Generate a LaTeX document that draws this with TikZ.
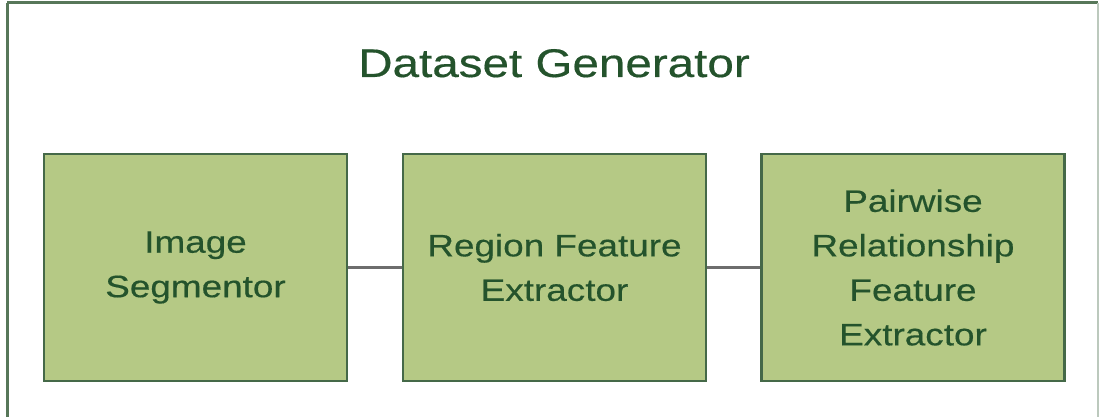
\documentclass[tikz,border=0pt]{standalone}
\usepackage{fontspec}
\setmainfont[FakeStretch=1.19, FakeBold=0.4]{Liberation Sans}
\definecolor{boxfill}{HTML}{B5C985}
\definecolor{boxline}{HTML}{456948}
\definecolor{textgreen}{HTML}{24532C}
\definecolor{framegreen}{HTML}{577759}
\definecolor{linkgray}{HTML}{6D6D6D}
\tikzset{
  stage/.style={draw=boxline, line width=2.8pt, fill=boxfill,
    minimum width=303pt, minimum height=227pt, inner sep=0pt,
    align=center, text=textgreen,
    font=\fontsize{31}{44.5}\selectfont},
  link/.style={draw=linkgray, line width=3pt},
  heading/.style={text=textgreen, font=\fontsize{40}{48}\selectfont, inner sep=0pt}
}
\begin{document}
\begin{tikzpicture}[x=1pt, y=-1pt]
  \useasboundingbox (0,0) rectangle (1099,417);
  % enclosing frame, open at the bottom of the page
  \begin{scope}
    \clip (0,0) rectangle (1099,417);
    \draw[framegreen, line width=3pt] (7,3) -- (1097.5,3);
    \draw[framegreen, line width=3pt] (7,3) -- (7,440);
    \draw[framegreen!40, line width=1.5pt] (1098,3) -- (1098,440);
  \end{scope}
  \node[heading, anchor=base] (title) at (554,77) {Dataset Generator};
  \node[stage] (seg) at (195.5,267.5) {Image\\Segmentor};
  \node[stage] (region) at (554.5,267.5) {Region Feature\\Extractor};
  \node[stage] (pair) at (913,267.5) {Pairwise\\Relationship\\Feature\\Extractor};
  \draw[link] (seg.east) -- (region.west);
  \draw[link] (region.east) -- (pair.west);
\end{tikzpicture}
\end{document}
